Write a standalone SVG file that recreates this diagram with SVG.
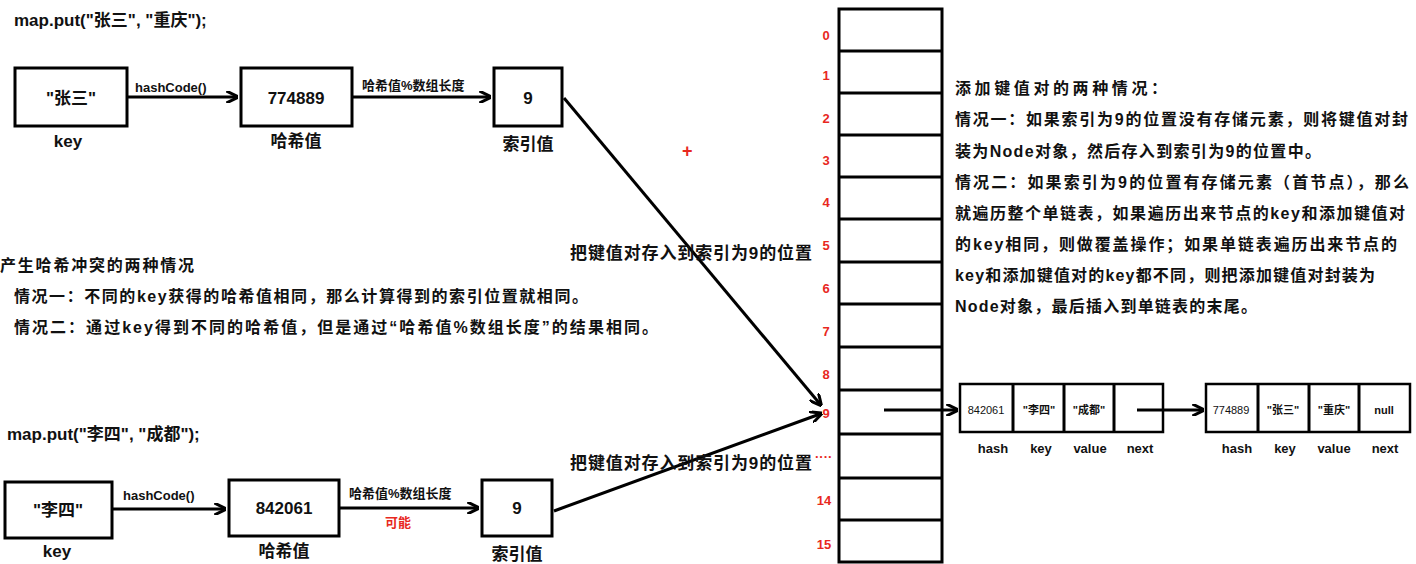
<svg xmlns="http://www.w3.org/2000/svg" width="1416" height="564" viewBox="0 0 1416 564">
<style>
text{font-family:"Liberation Sans","Noto Sans CJK SC",sans-serif;font-weight:bold;fill:#111}
.b{fill:#fff;stroke:#000;stroke-width:3}
.c{fill:#fff;stroke:#000;stroke-width:2.5}
.l{stroke:#000;stroke-width:3;fill:none}
.r,.r text{fill:#e8281e;font-size:13px}
.m,.m text{text-anchor:middle}
</style>
<defs><marker id="a" viewBox="0 0 10 10" refX="8" refY="5" markerWidth="4" markerHeight="4" orient="auto"><path d="M0,0L10,5L0,10" fill="none" stroke="#000" stroke-width="2.5"/></marker></defs>
<rect width="1416" height="564" fill="#fff"/>
<text x="14" y="26" font-size="17">map.put("张三", "重庆");</text>
<text x="7" y="440" font-size="17">map.put("李四", "成都");</text>
<g id="n1"><rect class="b" x="15" y="68" width="112" height="58"/><text class="m" x="71" y="104" font-size="17">"张三"</text><text class="m" x="68" y="147" font-size="17">key</text></g>
<g id="n2"><rect class="b" x="241" y="68" width="111" height="58"/><text class="m" x="296" y="104" font-size="17">774889</text><text class="m" x="296" y="147" font-size="17">哈希值</text></g>
<g id="n3"><rect class="b" x="494" y="68" width="68" height="58"/><text class="m" x="528" y="104" font-size="17">9</text><text class="m" x="528" y="150" font-size="17">索引值</text></g>
<g id="n4"><rect class="b" x="5" y="482" width="107" height="56"/><text class="m" x="58" y="516" font-size="17">"李四"</text><text class="m" x="57" y="557" font-size="17">key</text></g>
<g id="n5"><rect class="b" x="229" y="480" width="110" height="56"/><text class="m" x="284" y="514" font-size="17">842061</text><text class="m" x="284" y="557" font-size="17">哈希值</text></g>
<g id="n6"><rect class="b" x="482" y="480" width="70" height="56"/><text class="m" x="517" y="514" font-size="17">9</text><text class="m" x="517" y="560" font-size="17">索引值</text></g>
<g id="arr">
<rect class="b" x="839" y="9" width="103" height="553"/>
<path class="l" d="M839 51H942M839 93H942M839 135H942M839 177H942M839 219H942M839 262H942M839 304H942M839 347H942M839 390H942M839 434H942M839 478H942M839 520H942"/>
<g class="r m"><text x="826" y="40">0</text><text x="826" y="80">1</text><text x="826" y="123">2</text><text x="826" y="165">3</text><text x="826" y="207">4</text><text x="826" y="250">5</text><text x="826" y="293">6</text><text x="826" y="336">7</text><text x="826" y="379">8</text><text x="826" y="418">9</text><text x="824" y="505">14</text><text x="824" y="549">15</text></g>
<text class="r" x="815" y="461">····</text>
</g>
<text class="r" x="682" y="157" style="font-size:18px">+</text>
<g id="list1"><rect class="c" x="960" y="384" width="203" height="48"/><path class="l" d="M1013 384V432M1064 384V432M1114 384V432"/>
<g font-size="11"><text class="m" x="986" y="414" style="font-weight:normal">842061</text><text class="m" x="1039" y="414">"李四"</text><text class="m" x="1089" y="414">"成都"</text></g>
<g font-size="13"><text class="m" x="993" y="453">hash</text><text class="m" x="1041" y="453">key</text><text class="m" x="1090" y="453">value</text><text class="m" x="1140" y="453">next</text></g></g>
<g id="list2"><rect class="c" x="1206" y="384" width="204" height="48"/><path class="l" d="M1258 384V432M1309 384V432M1359 384V432"/>
<g font-size="11"><text class="m" x="1231" y="414" style="font-weight:normal">774889</text><text class="m" x="1283" y="414">"张三"</text><text class="m" x="1334" y="414">"重庆"</text><text class="m" x="1384" y="414">null</text></g>
<g font-size="13"><text class="m" x="1237" y="453">hash</text><text class="m" x="1285" y="453">key</text><text class="m" x="1334" y="453">value</text><text class="m" x="1385" y="453">next</text></g></g>
<g id="connectors">
<line class="l" x1="127" y1="97" x2="236" y2="97" marker-end="url(#a)"/>
<line class="l" x1="352" y1="97" x2="489" y2="97" marker-end="url(#a)"/>
<line class="l" x1="112" y1="509" x2="224" y2="509" marker-end="url(#a)"/>
<line class="l" x1="339" y1="508" x2="477" y2="508" marker-end="url(#a)"/>
<line class="l" x1="564" y1="98" x2="820" y2="404" marker-end="url(#a)" stroke-width="2.5"/>
<line class="l" x1="554" y1="511" x2="820" y2="414" marker-end="url(#a)" stroke-width="2.5"/>
<line class="l" x1="884" y1="410" x2="956" y2="410" marker-end="url(#a)"/>
<line class="l" x1="1137" y1="410" x2="1202" y2="410" marker-end="url(#a)"/>
</g>
<text x="135" y="92" font-size="13">hashCode()</text>
<text x="362" y="90" font-size="13">哈希值%数组长度</text>
<text x="123" y="500" font-size="13">hashCode()</text>
<text x="349" y="498" font-size="13">哈希值%数组长度</text>
<text class="r" x="385" y="527">可能</text>
<text x="570" y="259" font-size="17" textLength="242">把键值对存入到索引为9的位置</text>
<text x="570" y="469" font-size="17" textLength="242">把键值对存入到索引为9的位置</text>
<g font-size="16">
<text x="0" y="271" textLength="194">产生哈希冲突的两种情况</text>
<text x="14" y="302" textLength="574">情况一：不同的key获得的哈希值相同，那么计算得到的索引位置就相同。</text>
<text x="14" y="333" textLength="644">情况二：通过key得到不同的哈希值，但是通过“哈希值%数组长度”的结果相同。</text>
</g>
<g font-size="16">
<text x="955" y="94" textLength="212">添加键值对的两种情况：</text>
<text x="955" y="125" textLength="453">情况一：如果索引为9的位置没有存储元素，则将键值对封</text>
<text x="955" y="157" textLength="366">装为Node对象，然后存入到索引为9的位置中。</text>
<text x="955" y="188" textLength="454">情况二：如果索引为9的位置有存储元素（首节点），那么</text>
<text x="955" y="219" textLength="450">就遍历整个单链表，如果遍历出来节点的key和添加键值对</text>
<text x="955" y="250" textLength="442">的key相同，则做覆盖操作；如果单链表遍历出来节点的</text>
<text x="955" y="281" textLength="420">key和添加键值对的key都不同，则把添加键值对封装为</text>
<text x="955" y="312" textLength="302">Node对象，最后插入到单链表的末尾。</text>
</g>
</svg>
